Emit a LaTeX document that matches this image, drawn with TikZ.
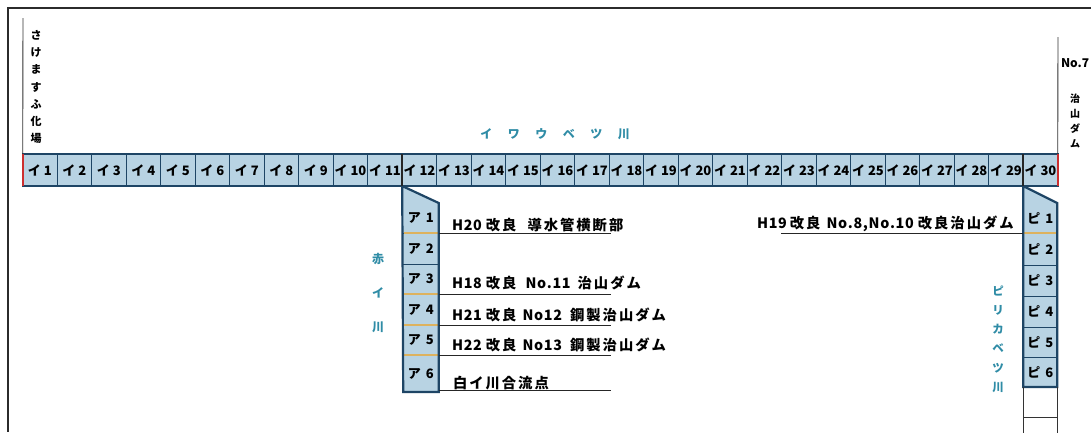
\documentclass[tikz,border=0pt]{standalone}
\usepackage{fontspec}
\newfontfamily\jpf{Noto Sans CJK JP}
\newfontfamily\jpl{Noto Sans CJK JP}[LetterSpace=5]
\newcommand\gk{\kern2pt}
\definecolor{cellfill}{HTML}{B8D3E3}
\definecolor{bord}{HTML}{1E4565}
\definecolor{rivtxt}{HTML}{2F8CA6}
\definecolor{damc}{HTML}{DDB25E}
\definecolor{redend}{HTML}{CC2F2F}
\definecolor{framec}{HTML}{2B2B2B}
\begin{document}
\begin{tikzpicture}[x=1pt,y=-1pt,
  every node/.style={inner sep=0pt, outer sep=0pt},
  framel/.style={draw=framec, line width=1.6pt},
  icell/.style={draw=bord, line width=0.9pt, fill=cellfill, minimum width=34.5pt, minimum height=32pt, anchor=north west, font=\jpf\bfseries\fontsize{13}{14}\selectfont},
  ccell/.style={fill=cellfill, minimum width=35.5pt, anchor=north west, font=\jpf\bfseries\fontsize{13}{14}\selectfont, text depth=0pt},
  bcell/.style={fill=cellfill, minimum width=34pt, anchor=north west, font=\jpf\bfseries\fontsize{13}{14}\selectfont, text depth=0pt},
  bordthick/.style={draw=bord, line width=2.2pt},
  divline/.style={draw=bord, line width=0.9pt},
  damline/.style={draw=damc, line width=2.6pt},
  leader/.style={draw=black!85, line width=1pt},
  thinblk/.style={draw=black!80, line width=0.9pt},
  redline/.style={draw=redend, line width=2pt},
  lbl/.style={anchor=base west, font=\jpl\bfseries\fontsize{14.3}{16}\selectfont},
  rivlbl/.style={text=rivtxt, align=center},
  vtext/.style={align=center},
]
\useasboundingbox (0,0) rectangle (1091,432);
\fill[white] (0,0) rectangle (1091,432);
% outer frame
\draw[framel] (1091,8) -- (8,8) -- (8,432);

% main strip cells
\foreach \i in {1,...,30} {
  \node[icell] (i\i) at ({22.7+(\i-1)*34.5},154) {イ\hspace{3pt}\i};
}
\draw[bordthick] (i1.north west) rectangle (i30.south east);
\draw[redline] (i1.north west) -- (i1.south west);
\draw[redline] (i30.north east) -- (i30.south east);

% end markers
\coordinate (sakeTop) at (23,18);
\coordinate (damTop) at (1058,37);
\draw[thinblk] (sakeTop) -- (i1.north west);
\draw[thinblk] (damTop) -- (i30.north east);
\node[vtext, font=\jpf\bfseries\fontsize{11}{17.2}\selectfont] (sake) at (36,87) {さ\\け\\ま\\す\\ふ\\化\\場};
\node[anchor=west, font=\jpf\bfseries\fontsize{12}{14}\selectfont] (no7) at (1061,63) {No.7};
\node[vtext, font=\jpf\bfseries\fontsize{10}{15.3}\selectfont] (chisan) at (1075,121) {治\\山\\ダ\\ム};

% river title
\node[rivlbl, font=\jpf\bfseries\fontsize{12}{14}\selectfont] (iwaube) at (555,134)
  {イ\hspace{15.5pt}ワ\hspace{15.5pt}ウ\hspace{15.5pt}ベ\hspace{15.5pt}ツ\hspace{15.5pt}川};

% A column (赤イ川)
\node[ccell, minimum height=30pt] (a1) at (403.2,203) {ア\hspace{5pt}1};
\node[ccell, minimum height=31pt] (a2) at (403.2,233) {ア\hspace{5pt}2};
\node[ccell, minimum height=30pt] (a3) at (403.2,264) {ア\hspace{5pt}3};
\node[ccell, minimum height=31pt] (a4) at (403.2,294) {ア\hspace{5pt}4};
\node[ccell, minimum height=30pt] (a5) at (403.2,325) {ア\hspace{5pt}5};
\node[ccell, minimum height=37pt] (a6) at (403.2,355) {ア\hspace{5pt}6};
\fill[cellfill] (i12.south west) -- (a1.north east) -- (a1.north west) -- cycle;
\foreach \c in {a2,a3,a4,a5,a6} { \draw[divline] (\c.north west) -- (\c.north east); }
\foreach \c in {a2,a4,a5,a6} { \draw[damline] ([xshift=1pt]\c.north west) -- ([xshift=-1pt]\c.north east); }
\draw[bordthick, line join=miter] (i12.south west) -- (a1.north east) -- (a6.south east) -- (a6.south west) -- cycle;
\draw[draw=black!85, line width=2pt] (i12.north west) -- (i12.south west);
\node[rivlbl, font=\jpf\bfseries\fontsize{12}{34}\selectfont] (akai) at (378,293) {赤\\イ\\川};

% A leaders and labels
\coordinate (la1) at (611,233);
\coordinate (la3) at (611,294);
\coordinate (la4) at (611,325);
\coordinate (la5) at (611,355);
\coordinate (la6) at (611,390);
\draw[leader] (a2.north east) -- (la1);
\draw[leader] (a4.north east) -- (la3);
\draw[leader] (a5.north east) -- (la4);
\draw[leader] (a6.north east) -- (la5);
\draw[leader] (a6.south east |- la6) -- (la6);
\node[lbl] (t20) at (452,230.5) {H20\hspace{4pt}改\gk 良\hspace{11pt}導\gk 水\gk 管\gk 横\gk 断\gk 部};
\node[lbl] (t18) at (452,288.5) {H18\hspace{4pt}改\gk 良\hspace{9pt}No.11\hspace{7pt}治\gk 山\gk ダ\gk ム};
\node[lbl] (t21) at (452,320) {H21\hspace{4pt}改\gk 良\hspace{6pt}No12\hspace{8pt}鋼\gk 製\gk 治\gk 山\gk ダ\gk ム};
\node[lbl] (t22) at (452,350.5) {H22\hspace{4pt}改\gk 良\hspace{6pt}No13\hspace{8pt}鋼\gk 製\gk 治\gk 山\gk ダ\gk ム};
\node[lbl] (tsh) at (453,388) {白\gk イ\gk 川\gk 合\gk 流\gk 点};

% B column (ピリカベツ川)
\node[bcell, minimum height=30pt] (b1) at (1023.2,203) {ピ\hspace{5pt}1};
\node[bcell, minimum height=32pt] (b2) at (1023.2,233) {ピ\hspace{5pt}2};
\node[bcell, minimum height=31pt] (b3) at (1023.2,265) {ピ\hspace{5pt}3};
\node[bcell, minimum height=31pt] (b4) at (1023.2,296) {ピ\hspace{5pt}4};
\node[bcell, minimum height=30pt] (b5) at (1023.2,327) {ピ\hspace{5pt}5};
\node[bcell, minimum height=30pt] (b6) at (1023.2,357) {ピ\hspace{5pt}6};
\fill[cellfill] (i30.south west) -- (b1.north east) -- (b1.north west) -- cycle;
\foreach \c in {b2,b3,b4,b5,b6} { \draw[divline] (\c.north west) -- (\c.north east); }
\draw[damline] ([xshift=1pt]b2.north west) -- ([xshift=-1pt]b2.north east);
\draw[bordthick, line join=miter] (i30.south west) -- (b1.north east) -- (b6.south east) -- (b6.south west) -- cycle;
\draw[draw=black!85, line width=2pt] (i30.north west) -- (i30.south west);
\draw[thinblk] (b6.south west) -- ++(0,46);
\draw[thinblk] (b6.south east) -- ++(0,46);
\draw[thinblk] ([yshift=-30pt]b6.south west) -- ([yshift=-30pt]b6.south east);
\node[rivlbl, font=\jpf\bfseries\fontsize{11.5}{19.2}\selectfont] (pirika) at (998,339) {ピ\\リ\\カ\\ベ\\ツ\\川};

\coordinate (lb1) at (781,233);
\draw[leader] (b1.south west) -- (lb1);
\node[lbl] (t19) at (757,228.5) {H19\hspace{3pt}改\gk 良\hspace{6pt}No.8,No.10\hspace{4pt}改\gk 良\gk 治\gk 山\gk ダ\gk ム};
\end{tikzpicture}
\end{document}
